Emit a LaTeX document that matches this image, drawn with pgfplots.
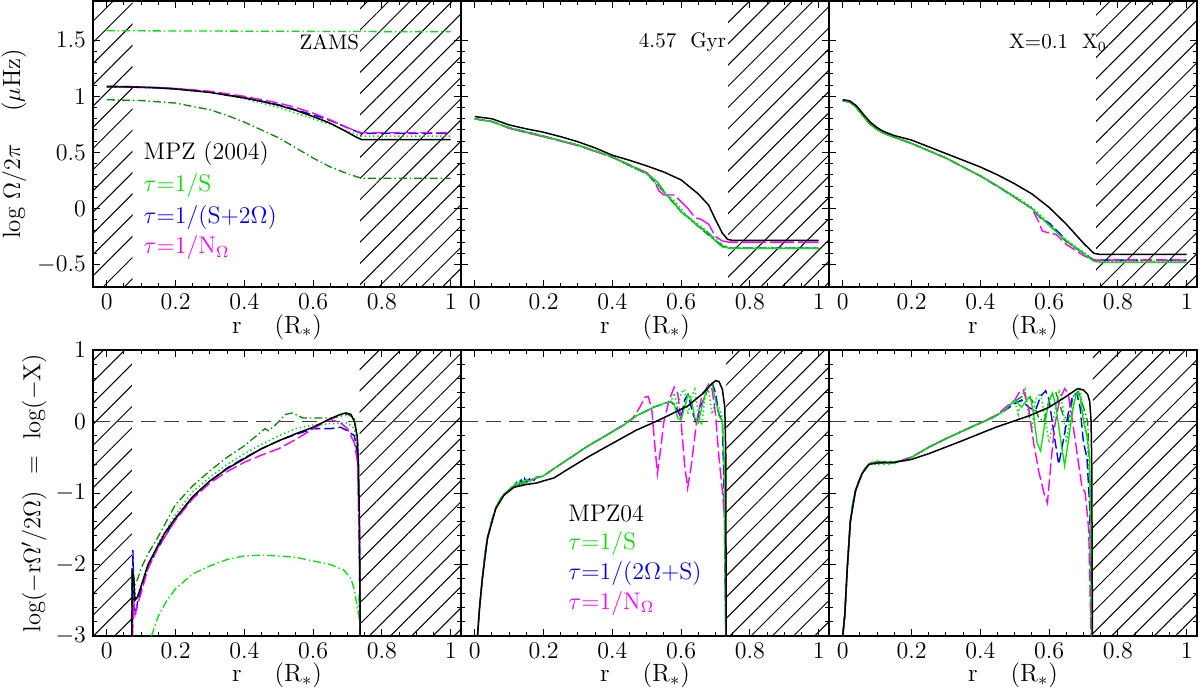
\documentclass[border=0pt]{standalone}
\usepackage{pgfplots}
\pgfplotsset{compat=1.18}
\usetikzlibrary{patterns.meta}
\definecolor{lgreen}{RGB}{0,225,0}
\definecolor{dgreen}{RGB}{0,140,0}
\definecolor{mblue}{RGB}{0,0,255}
\definecolor{mmag}{RGB}{255,0,255}
\pgfplotsset{
  panel/.style={scale only axis, width=184pt, height=143pt,
    xmin=-0.04, xmax=1.03, xtick={0,0.2,0.4,0.6,0.8,1}, minor x tick num=3,
    tick align=inside, xtick pos=both, ytick pos=both,
    xticklabel pos=lower, yticklabel pos=left,
    major tick length=3.5pt, minor tick length=1.8pt,
    axis line style={line width=0.7pt}, every tick/.style={line width=0.5pt, black},
    tick label style={font=\fontsize{12}{13}\selectfont},
    xlabel={r\quad\ (R$_*$)}, clip=true},
  toprow/.style={panel, ymin=-0.7, ymax=1.85, ytick={-0.5,0,0.5,1,1.5}, minor y tick num=4,
    every axis x label/.style={at={(axis description cs:0.5,-0.14)},anchor=center,font=\fontsize{12.5}{14}\selectfont}},
  botrow/.style={panel, ymin=-3, ymax=1, ytick={-3,-2,-1,0,1}, minor y tick num=4,
    every axis x label/.style={at={(axis description cs:0.5,-0.138)},anchor=center,font=\fontsize{12.5}{14}\selectfont}},
  hatch/.style={draw=none, forget plot, pattern={Lines[angle=45,distance=7.5pt,line width=0.5pt]}},
  mpz/.style={black, line width=0.75pt},
  gsol/.style={lgreen, line width=0.65pt},
  gdot/.style={lgreen, line width=0.75pt, dash pattern=on 0.7pt off 1.4pt},
  gdd/.style={lgreen, line width=0.65pt, dash pattern=on 4pt off 1.5pt on 0.7pt off 1.5pt},
  dgdd/.style={dgreen, line width=0.65pt, dash pattern=on 4pt off 1.5pt on 0.7pt off 1.5pt},
  bdash/.style={mblue, line width=0.7pt, dash pattern=on 5pt off 2pt},
  mdash/.style={mmag, line width=0.7pt, dash pattern=on 6pt off 2pt},
  zline/.style={black!75, line width=0.8pt, dash pattern=on 7.5pt off 4pt, forget plot},
}
\newcommand{\lf}{\fontsize{12}{14}\selectfont}
\begin{document}
\begin{tikzpicture}
\useasboundingbox (0,0) rectangle (600pt,-343.5pt);
% ---------------- top left: ZAMS
\begin{axis}[toprow, at={(46.5pt,-0.5pt)}, anchor=north west,
  ylabel={log $\Omega/2\pi$\quad\ ($\mu$Hz)},
  every axis y label/.style={at={(axis description cs:-0.215,0.5)},rotate=90,anchor=center,font=\fontsize{12.5}{14}\selectfont}]
\addplot[hatch] coordinates {(-0.1,-1)(0.075,-1)(0.075,2)(-0.1,2)};
\addplot[hatch] coordinates {(0.737,-1)(1.1,-1)(1.1,2)(0.737,2)};
\addplot[gdd] coordinates {(0,1.585)(0.5,1.58)(1,1.575)};
\addplot[dgdd] coordinates {(0,0.97)(0.1,0.962)(0.2,0.94)(0.3,0.88)(0.35,0.83)(0.4,0.77)(0.45,0.7)(0.5,0.63)(0.55,0.54)(0.6,0.45)(0.65,0.37)(0.7,0.31)(0.74,0.27)(1,0.27)};
\addplot[gdot] coordinates {(0,1.085)(0.1,1.08)(0.2,1.065)(0.3,1.035)(0.4,0.98)(0.5,0.9)(0.6,0.8)(0.65,0.75)(0.7,0.69)(0.74,0.645)(1,0.645)};
\addplot[bdash] coordinates {(0,1.09)(0.1,1.085)(0.2,1.07)(0.3,1.04)(0.4,0.99)(0.5,0.925)(0.6,0.835)(0.65,0.785)(0.7,0.72)(0.74,0.67)(1,0.67)};
\addplot[mdash] coordinates {(0,1.09)(0.1,1.085)(0.2,1.07)(0.3,1.045)(0.4,1.0)(0.5,0.94)(0.55,0.9)(0.6,0.85)(0.65,0.79)(0.7,0.72)(0.74,0.675)(1,0.675)};
\addplot[mpz] coordinates {(0,1.085)(0.05,1.085)(0.1,1.08)(0.15,1.075)(0.2,1.065)(0.25,1.05)(0.3,1.035)(0.35,1.01)(0.4,0.985)(0.45,0.955)(0.5,0.92)(0.55,0.875)(0.6,0.82)(0.65,0.76)(0.7,0.68)(0.72,0.645)(0.74,0.615)(1.0,0.615)};
\node[font=\fontsize{10.5}{12}\selectfont] at (axis cs:0.647,1.485) {ZAMS};
\node[anchor=west,font=\lf] at (axis cs:0.087,0.486) {MPZ (2004)};
\node[anchor=west,font=\lf,text=lgreen] at (axis cs:0.087,0.209) {$\tau$=1/S};
\node[anchor=west,font=\lf,text=mblue] at (axis cs:0.087,-0.076) {$\tau$=1/(S+2$\Omega$)};
\node[anchor=west,font=\lf,text=mmag] at (axis cs:0.087,-0.352) {$\tau$=1/N$_\Omega$};
\end{axis}
% ---------------- top middle: 4.57 Gyr
\begin{axis}[toprow, at={(230.5pt,-0.5pt)}, anchor=north west, yticklabels={}]
\addplot[hatch] coordinates {(0.737,-1)(1.1,-1)(1.1,2)(0.737,2)};
\addplot[dgdd] coordinates {(0,0.80)(0.05,0.775)(0.1,0.72)(0.2,0.645)(0.3,0.565)(0.4,0.46)(0.5,0.31)(0.555,0.13)(0.6,-0.03)(0.65,-0.16)(0.7,-0.29)(0.74,-0.355)(1,-0.355)};
\addplot[gdot] coordinates {(0,0.80)(0.05,0.775)(0.1,0.715)(0.2,0.64)(0.3,0.56)(0.4,0.455)(0.5,0.305)(0.55,0.15)(0.58,0.07)(0.6,0.0)(0.62,-0.08)(0.65,-0.14)(0.67,-0.19)(0.7,-0.27)(0.72,-0.33)(0.74,-0.35)(1,-0.35)};
\addplot[bdash] coordinates {(0,0.80)(0.05,0.775)(0.1,0.72)(0.2,0.645)(0.3,0.565)(0.4,0.46)(0.5,0.31)(0.53,0.24)(0.555,0.13)(0.58,0.05)(0.6,-0.03)(0.63,-0.1)(0.65,-0.16)(0.68,-0.22)(0.7,-0.29)(0.72,-0.34)(0.74,-0.355)(1,-0.355)};
\addplot[mmag, line width=0.7pt, dash pattern=on 12pt off 2pt] coordinates {(0,0.80)(0.05,0.775)(0.1,0.715)(0.15,0.675)(0.2,0.64)(0.25,0.6)(0.3,0.56)(0.35,0.51)(0.4,0.455)(0.45,0.39)(0.5,0.32)(0.52,0.26)(0.535,0.16)(0.55,0.12)(0.58,0.12)(0.6,0.06)(0.62,0.0)(0.64,-0.08)(0.66,-0.1)(0.68,-0.14)(0.7,-0.25)(0.72,-0.29)(0.74,-0.30)(1,-0.30)};
\addplot[gsol] coordinates {(0,0.80)(0.05,0.775)(0.1,0.72)(0.15,0.68)(0.2,0.645)(0.25,0.605)(0.3,0.565)(0.35,0.515)(0.4,0.46)(0.45,0.39)(0.5,0.31)(0.53,0.24)(0.555,0.13)(0.58,0.05)(0.6,-0.03)(0.63,-0.1)(0.65,-0.16)(0.68,-0.22)(0.7,-0.29)(0.72,-0.34)(0.74,-0.355)(1,-0.355)};
\addplot[mpz] coordinates {(0,0.82)(0.05,0.80)(0.1,0.745)(0.15,0.71)(0.2,0.68)(0.25,0.64)(0.3,0.595)(0.35,0.54)(0.4,0.475)(0.45,0.43)(0.5,0.38)(0.55,0.325)(0.6,0.255)(0.65,0.13)(0.68,0.03)(0.7,-0.10)(0.72,-0.22)(0.735,-0.275)(0.75,-0.285)(1,-0.285)};
\node[font=\fontsize{10.5}{12}\selectfont] at (axis cs:0.604,1.485) {4.57\ \ Gyr};
\end{axis}
% ---------------- top right: X=0.1 X0
\begin{axis}[toprow, at={(414.5pt,-0.5pt)}, anchor=north west, yticklabels={}]
\addplot[hatch] coordinates {(0.737,-1)(1.1,-1)(1.1,2)(0.737,2)};
\addplot[dgdd] coordinates {(0,0.96)(0.02,0.95)(0.04,0.9)(0.06,0.82)(0.08,0.75)(0.1,0.705)(0.12,0.67)(0.15,0.635)(0.2,0.58)(0.3,0.45)(0.4,0.29)(0.5,0.10)(0.55,0.0)(0.6,-0.15)(0.62,-0.2)(0.65,-0.3)(0.68,-0.36)(0.7,-0.40)(0.73,-0.47)(0.75,-0.48)(1,-0.48)};
\addplot[gdot] coordinates {(0,0.96)(0.02,0.95)(0.04,0.9)(0.06,0.82)(0.08,0.75)(0.1,0.705)(0.12,0.67)(0.15,0.635)(0.2,0.58)(0.3,0.45)(0.4,0.29)(0.5,0.11)(0.55,0.01)(0.6,-0.13)(0.65,-0.28)(0.7,-0.39)(0.73,-0.46)(0.75,-0.47)(1,-0.47)};
\addplot[bdash] coordinates {(0,0.96)(0.02,0.95)(0.04,0.9)(0.06,0.82)(0.08,0.75)(0.1,0.705)(0.12,0.67)(0.15,0.635)(0.2,0.58)(0.25,0.515)(0.3,0.45)(0.35,0.37)(0.4,0.29)(0.45,0.2)(0.5,0.10)(0.55,0.0)(0.58,-0.1)(0.6,-0.13)(0.63,-0.22)(0.65,-0.29)(0.7,-0.40)(0.73,-0.46)(0.75,-0.46)(1,-0.46)};
\addplot[mdash] coordinates {(0,0.96)(0.02,0.95)(0.04,0.9)(0.06,0.82)(0.08,0.75)(0.1,0.705)(0.12,0.67)(0.15,0.635)(0.2,0.58)(0.25,0.515)(0.3,0.45)(0.35,0.37)(0.4,0.29)(0.45,0.2)(0.5,0.10)(0.55,0.0)(0.57,-0.12)(0.58,-0.2)(0.6,-0.22)(0.62,-0.23)(0.65,-0.32)(0.68,-0.38)(0.7,-0.42)(0.73,-0.46)(1,-0.46)};
\addplot[gsol] coordinates {(0,0.96)(0.02,0.95)(0.04,0.9)(0.06,0.82)(0.08,0.75)(0.1,0.705)(0.12,0.67)(0.15,0.635)(0.2,0.58)(0.25,0.515)(0.3,0.45)(0.35,0.37)(0.4,0.29)(0.45,0.2)(0.5,0.10)(0.55,0.0)(0.6,-0.15)(0.65,-0.29)(0.7,-0.40)(0.73,-0.47)(0.75,-0.48)(1,-0.48)};
\addplot[mpz] coordinates {(0,0.97)(0.02,0.96)(0.04,0.915)(0.06,0.84)(0.08,0.77)(0.1,0.72)(0.12,0.685)(0.15,0.65)(0.2,0.61)(0.25,0.55)(0.3,0.49)(0.35,0.43)(0.4,0.37)(0.45,0.30)(0.5,0.22)(0.55,0.13)(0.6,0.01)(0.65,-0.14)(0.7,-0.31)(0.73,-0.40)(0.75,-0.41)(1,-0.41)};
\node[font=\fontsize{10.5}{12}\selectfont] at (axis cs:0.626,1.475) {X=0.1\ \ X$_0$};
\end{axis}
% ---------------- bottom left
\begin{axis}[botrow, at={(46.5pt,-175pt)}, anchor=north west,
  ylabel={log($-$r$\Omega'$/2$\Omega$)\ \ =\ \ log($-$X)},
  every axis y label/.style={at={(axis description cs:-0.16,0.5)},rotate=90,anchor=center,font=\fontsize{12.3}{14}\selectfont}]
\addplot[hatch] coordinates {(-0.1,-4)(0.073,-4)(0.073,2)(-0.1,2)};
\addplot[hatch] coordinates {(0.735,-4)(1.1,-4)(1.1,2)(0.735,2)};
\addplot[zline] coordinates {(-0.1,0)(1.1,0)};
\addplot[gdd] coordinates {(0.13,-3)(0.15,-2.72)(0.175,-2.5)(0.2,-2.34)(0.25,-2.13)(0.3,-2.02)(0.35,-1.93)(0.4,-1.88)(0.45,-1.87)(0.5,-1.88)(0.55,-1.9)(0.6,-1.95)(0.65,-2.0)(0.69,-2.08)(0.71,-2.2)(0.72,-2.35)(0.728,-2.6)(0.732,-2.7)(0.734,-2.4)(0.736,-3)};
\addplot[dgdd] coordinates {(0.072,-2.8)(0.074,-2.05)(0.08,-2.3)(0.09,-2.2)(0.1,-2.05)(0.12,-1.85)(0.145,-1.65)(0.2,-1.16)(0.25,-0.9)(0.3,-0.69)(0.35,-0.5)(0.4,-0.34)(0.44,-0.18)(0.46,-0.1)(0.47,-0.13)(0.49,-0.05)(0.52,0.1)(0.54,0.12)(0.57,0.05)(0.62,0.05)(0.66,0.05)(0.7,0.1)(0.72,0.05)(0.73,-0.3)(0.735,-1.5)(0.737,-3)};
\addplot[gdot] coordinates {(0.075,-3)(0.078,-2.2)(0.085,-2.5)(0.1,-2.3)(0.15,-1.7)(0.2,-1.3)(0.25,-0.98)(0.3,-0.78)(0.35,-0.6)(0.4,-0.45)(0.45,-0.32)(0.5,-0.2)(0.55,-0.1)(0.6,-0.05)(0.65,-0.03)(0.7,-0.02)(0.72,-0.1)(0.73,-0.5)(0.735,-2)(0.737,-3)};
\addplot[bdash] coordinates {(0.074,-3)(0.076,-1.8)(0.08,-2.6)(0.085,-2.7)(0.09,-2.5)(0.1,-2.35)(0.12,-2.05)(0.145,-1.8)(0.2,-1.36)(0.25,-1.06)(0.3,-0.84)(0.35,-0.65)(0.4,-0.51)(0.45,-0.38)(0.5,-0.27)(0.55,-0.18)(0.6,-0.1)(0.65,-0.1)(0.68,-0.08)(0.7,-0.13)(0.72,-0.2)(0.73,-0.5)(0.735,-2)(0.737,-3)};
\addplot[mdash] coordinates {(0.075,-3)(0.078,-2.5)(0.082,-2.7)(0.09,-2.55)(0.1,-2.4)(0.12,-2.05)(0.15,-1.75)(0.2,-1.38)(0.25,-1.08)(0.3,-0.86)(0.35,-0.7)(0.4,-0.57)(0.45,-0.47)(0.5,-0.38)(0.55,-0.25)(0.6,-0.1)(0.65,0.03)(0.68,-0.02)(0.7,-0.1)(0.72,-0.3)(0.73,-0.6)(0.735,-2)(0.737,-3)};
\addplot[mpz] coordinates {(0.073,-3)(0.074,-2.1)(0.078,-2.15)(0.082,-2.5)(0.09,-2.45)(0.1,-2.3)(0.12,-2.0)(0.145,-1.77)(0.17,-1.55)(0.2,-1.35)(0.25,-1.05)(0.3,-0.83)(0.35,-0.66)(0.4,-0.52)(0.45,-0.38)(0.5,-0.27)(0.55,-0.17)(0.6,-0.08)(0.65,0.04)(0.68,0.1)(0.695,0.12)(0.71,0.1)(0.72,0.0)(0.728,-0.2)(0.732,-0.6)(0.735,-1.5)(0.737,-3)};
\end{axis}
% ---------------- bottom middle
\begin{axis}[botrow, at={(230.5pt,-175pt)}, anchor=north west, yticklabels={}]
\addplot[hatch] coordinates {(0.73,-4)(1.1,-4)(1.1,2)(0.73,2)};
\addplot[zline] coordinates {(-0.1,0)(1.1,0)};
\addplot[gdot] coordinates {(0.008,-3)(0.014,-2.6)(0.022,-2.2)(0.03,-1.85)(0.037,-1.63)(0.05,-1.38)(0.061,-1.21)(0.075,-1.08)(0.085,-1.02)(0.1,-0.95)(0.114,-0.9)(0.14,-0.85)(0.18,-0.79)(0.2,-0.76)(0.23,-0.66)(0.28,-0.5)(0.33,-0.34)(0.38,-0.2)(0.43,-0.06)(0.47,0.08)(0.5,0.15)(0.52,0.2)(0.55,0.25)(0.57,0.28)(0.58,0.4)(0.59,0.2)(0.6,0.4)(0.61,0.45)(0.62,0.1)(0.63,0.35)(0.64,0.45)(0.65,0.1)(0.66,-0.05)(0.67,0.35)(0.68,0.45)(0.69,0.1)(0.7,0.3)(0.71,0.2)(0.72,0.05)(0.725,-0.8)(0.73,-3)};
\addplot[bdash] coordinates {(0.008,-3)(0.014,-2.6)(0.022,-2.2)(0.03,-1.85)(0.037,-1.63)(0.05,-1.38)(0.061,-1.21)(0.075,-1.08)(0.085,-1.02)(0.1,-0.95)(0.114,-0.9)(0.125,-0.83)(0.13,-0.88)(0.135,-0.82)(0.14,-0.87)(0.145,-0.8)(0.15,-0.85)(0.16,-0.8)(0.17,-0.83)(0.18,-0.78)(0.2,-0.76)(0.23,-0.66)(0.28,-0.5)(0.33,-0.34)(0.38,-0.2)(0.43,-0.06)(0.47,0.08)(0.5,0.15)(0.52,0.2)(0.55,0.25)(0.57,0.28)(0.585,0.2)(0.6,0.05)(0.61,0.3)(0.62,0.38)(0.635,0.1)(0.645,-0.03)(0.655,0.2)(0.665,0.3)(0.68,0.5)(0.69,0.55)(0.7,0.4)(0.71,0.1)(0.72,0.0)(0.725,-1)(0.73,-3)};
\addplot[mdash] coordinates {(0.008,-3)(0.014,-2.6)(0.022,-2.2)(0.03,-1.85)(0.037,-1.63)(0.05,-1.38)(0.061,-1.21)(0.075,-1.08)(0.085,-1.02)(0.1,-0.95)(0.114,-0.9)(0.14,-0.85)(0.18,-0.79)(0.2,-0.76)(0.23,-0.66)(0.28,-0.5)(0.33,-0.34)(0.38,-0.2)(0.43,-0.05)(0.46,0.05)(0.48,0.2)(0.495,0.34)(0.505,0.35)(0.515,0.15)(0.523,-0.3)(0.531,-0.73)(0.54,-0.4)(0.55,0.0)(0.565,0.3)(0.58,0.48)(0.59,0.4)(0.6,0.0)(0.61,-0.6)(0.619,-0.93)(0.63,-0.6)(0.645,0.0)(0.66,0.35)(0.68,0.52)(0.69,0.45)(0.70,0.1)(0.71,-0.5)(0.72,-0.97)(0.727,-1.4)(0.73,-3)};
\addplot[gsol] coordinates {(0.008,-3)(0.014,-2.6)(0.022,-2.2)(0.03,-1.85)(0.037,-1.63)(0.05,-1.38)(0.061,-1.21)(0.075,-1.08)(0.085,-1.02)(0.1,-0.95)(0.114,-0.9)(0.12,-0.86)(0.125,-0.9)(0.13,-0.84)(0.135,-0.89)(0.14,-0.83)(0.145,-0.87)(0.15,-0.81)(0.16,-0.84)(0.17,-0.8)(0.18,-0.79)(0.2,-0.76)(0.23,-0.66)(0.28,-0.5)(0.33,-0.34)(0.38,-0.2)(0.43,-0.06)(0.47,0.08)(0.5,0.15)(0.52,0.2)(0.55,0.25)(0.57,0.28)(0.58,0.25)(0.59,0.05)(0.6,0.02)(0.61,0.2)(0.62,0.38)(0.63,0.3)(0.64,0.05)(0.65,-0.02)(0.66,0.2)(0.67,0.38)(0.68,0.5)(0.69,0.53)(0.7,0.3)(0.71,0.08)(0.72,0.0)(0.725,-0.5)(0.73,-3)};
\addplot[mpz] coordinates {(0.008,-3)(0.014,-2.6)(0.022,-2.2)(0.037,-1.63)(0.061,-1.22)(0.085,-1.03)(0.114,-0.92)(0.15,-0.88)(0.18,-0.86)(0.2,-0.83)(0.23,-0.79)(0.28,-0.64)(0.328,-0.5)(0.38,-0.36)(0.425,-0.24)(0.47,-0.12)(0.522,-0.01)(0.57,0.1)(0.62,0.22)(0.66,0.38)(0.69,0.53)(0.70,0.57)(0.71,0.56)(0.72,0.45)(0.727,0.2)(0.73,-0.5)(0.731,-3)};
\node[anchor=west,font=\lf] at (axis cs:0.252,-1.29) {MPZ04};
\node[anchor=west,font=\lf,text=lgreen] at (axis cs:0.252,-1.70) {$\tau$=1/S};
\node[anchor=west,font=\lf,text=mblue] at (axis cs:0.252,-2.12) {$\tau$=1/(2$\Omega$+S)};
\node[anchor=west,font=\lf,text=mmag] at (axis cs:0.252,-2.54) {$\tau$=1/N$_\Omega$};
\end{axis}
% ---------------- bottom right
\begin{axis}[botrow, at={(414.5pt,-175pt)}, anchor=north west, yticklabels={}]
\addplot[hatch] coordinates {(0.727,-4)(1.1,-4)(1.1,2)(0.727,2)};
\addplot[zline] coordinates {(-0.1,0)(1.1,0)};
\addplot[dgdd] coordinates {(0.0,-3)(0.006,-2.7)(0.013,-2.06)(0.022,-1.4)(0.037,-0.97)(0.056,-0.73)(0.076,-0.6)(0.1,-0.56)(0.15,-0.57)(0.2,-0.5)(0.25,-0.36)(0.3,-0.24)(0.35,-0.13)(0.4,-0.02)(0.43,0.04)(0.47,0.15)(0.5,0.28)(0.53,0.38)(0.55,0.3)(0.57,0.05)(0.585,0.0)(0.6,0.3)(0.62,0.4)(0.64,0.1)(0.655,0.0)(0.67,0.35)(0.685,0.42)(0.7,0.2)(0.712,0.0)(0.72,-1)(0.724,-3)};
\addplot[gdot] coordinates {(0.0,-3)(0.006,-2.7)(0.013,-2.06)(0.022,-1.4)(0.037,-0.97)(0.056,-0.73)(0.076,-0.6)(0.1,-0.56)(0.15,-0.57)(0.2,-0.5)(0.25,-0.36)(0.3,-0.24)(0.35,-0.13)(0.4,-0.02)(0.43,0.04)(0.47,0.15)(0.5,0.3)(0.51,0.1)(0.52,0.35)(0.53,0.45)(0.54,0.1)(0.55,-0.1)(0.56,0.3)(0.575,0.4)(0.59,0.0)(0.6,-0.3)(0.615,0.1)(0.63,0.45)(0.64,0.2)(0.65,-0.3)(0.66,0.0)(0.675,0.35)(0.69,0.45)(0.7,0.1)(0.71,-0.2)(0.72,-1)(0.724,-3)};
\addplot[bdash] coordinates {(0.0,-3)(0.006,-2.7)(0.013,-2.06)(0.022,-1.4)(0.03,-1.12)(0.037,-0.97)(0.045,-0.85)(0.056,-0.73)(0.066,-0.65)(0.076,-0.6)(0.085,-0.57)(0.1,-0.57)(0.15,-0.58)(0.2,-0.5)(0.25,-0.36)(0.3,-0.24)(0.35,-0.13)(0.4,-0.02)(0.43,0.04)(0.47,0.15)(0.5,0.25)(0.52,0.3)(0.54,0.2)(0.56,0.15)(0.575,0.35)(0.59,0.43)(0.6,0.3)(0.615,-0.2)(0.628,-0.6)(0.64,-0.3)(0.655,0.1)(0.668,0.35)(0.68,0.4)(0.69,0.2)(0.7,-0.3)(0.71,-0.5)(0.718,-1.2)(0.724,-3)};
\addplot[mdash] coordinates {(0.0,-3)(0.006,-2.7)(0.013,-2.06)(0.022,-1.4)(0.03,-1.12)(0.037,-0.97)(0.045,-0.85)(0.056,-0.73)(0.066,-0.65)(0.076,-0.6)(0.085,-0.57)(0.1,-0.57)(0.15,-0.58)(0.2,-0.5)(0.25,-0.36)(0.3,-0.24)(0.35,-0.13)(0.4,-0.02)(0.45,0.1)(0.474,0.2)(0.5,0.3)(0.515,0.42)(0.525,0.44)(0.54,0.2)(0.555,-0.3)(0.57,-0.7)(0.585,-1.0)(0.595,-1.14)(0.605,-0.6)(0.615,-0.1)(0.63,0.3)(0.645,0.46)(0.655,0.4)(0.665,0.1)(0.68,-0.4)(0.695,-0.9)(0.705,-1.0)(0.715,-1.5)(0.722,-3)};
\addplot[gsol] coordinates {(0.0,-3)(0.006,-2.7)(0.013,-2.06)(0.022,-1.4)(0.03,-1.12)(0.037,-0.97)(0.045,-0.85)(0.056,-0.73)(0.066,-0.65)(0.076,-0.6)(0.085,-0.57)(0.095,-0.6)(0.1,-0.55)(0.105,-0.6)(0.11,-0.56)(0.12,-0.6)(0.125,-0.56)(0.135,-0.6)(0.14,-0.56)(0.15,-0.59)(0.16,-0.56)(0.18,-0.55)(0.2,-0.5)(0.25,-0.36)(0.3,-0.24)(0.35,-0.13)(0.4,-0.02)(0.43,0.04)(0.47,0.15)(0.49,0.25)(0.5,0.3)(0.52,0.2)(0.535,0.3)(0.545,0.35)(0.555,0.1)(0.565,-0.3)(0.575,-0.41)(0.585,-0.1)(0.6,0.3)(0.61,0.4)(0.62,0.2)(0.635,-0.3)(0.645,-0.62)(0.655,-0.3)(0.67,0.2)(0.68,0.4)(0.69,0.35)(0.7,0.0)(0.71,-0.2)(0.718,-0.5)(0.724,-3)};
\addplot[mpz] coordinates {(0.0,-3)(0.006,-2.7)(0.013,-2.06)(0.022,-1.4)(0.037,-0.97)(0.056,-0.73)(0.076,-0.6)(0.1,-0.58)(0.15,-0.57)(0.2,-0.53)(0.25,-0.45)(0.347,-0.27)(0.445,-0.08)(0.542,0.08)(0.6,0.2)(0.64,0.32)(0.683,0.46)(0.7,0.44)(0.712,0.38)(0.718,0.28)(0.722,0.0)(0.724,-0.6)(0.726,-3)};
\end{axis}
\end{tikzpicture}
\end{document}
